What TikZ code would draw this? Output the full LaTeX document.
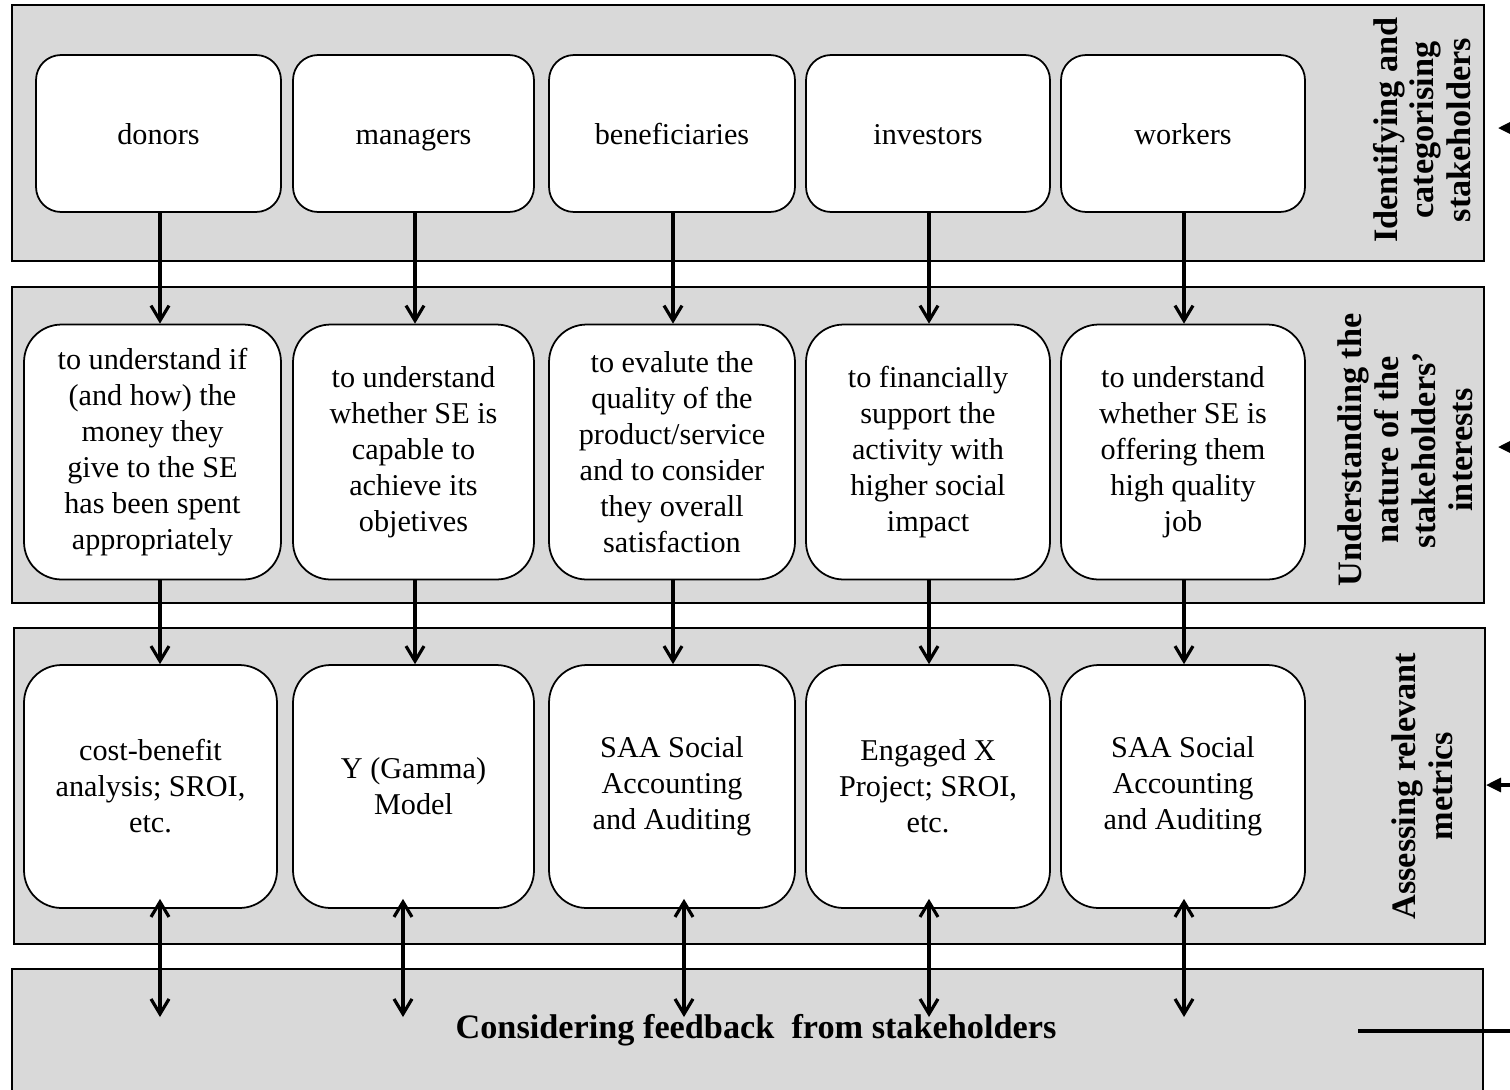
\documentclass[tikz,border=0pt]{standalone}
\usepackage{fontspec}
\setmainfont{Liberation Serif}
\usetikzlibrary{positioning,calc,arrows.meta}
\definecolor{bandgray}{RGB}{217,217,217}

\begin{document}
\begin{tikzpicture}[x=0.02cm,y=-0.02cm,
band/.style={draw,line width=1pt,fill=bandgray},
box/.style={draw,line width=1pt,fill=white,align=center,inner sep=2pt,minimum width=4.9cm,font=\fontsize{17.2}{20.5}\selectfont},
who/.style={box,minimum height=3.14cm,rounded corners=0.5cm,text height=15pt,text depth=3pt},
need/.style={box,minimum height=5.1cm,rounded corners=0.75cm},
metric/.style={box,minimum height=4.86cm,rounded corners=0.75cm},
phase/.style={rotate=90,align=center,font=\fontsize{19.5}{21}\selectfont\bfseries},
vtip/.tip={Straight Barb[length=0.3cm,width=0.36cm]},
edge/.style={-{vtip},line width=1.8pt},
twoway/.style={{vtip}-{vtip},line width=1.8pt},
loop/.style={-{Triangle[length=0.3cm,width=0.28cm]},line width=1.8pt}]

\useasboundingbox (0,0) rectangle (1510,1089);
\clip (0,0) rectangle (1510,1089);

% bands
\draw[band] (12,5) rectangle (1484,261);
\draw[band] (12,287) rectangle (1484,603);
\draw[band] (14,628) rectangle (1485,944);
\draw[band] (12,969) rectangle (1483,1095);

% band labels
\node[phase] (p1) at (1422,130) {Identifying and\\categorising\\stakeholders};
\node[phase] (p2) at (1405,450) {Understanding the\\nature of the\\stakeholders’\\interests};
\node[phase] (p3) at (1422,786) {Assessing relevant\\metrics};
\node[font=\fontsize{19.5}{21}\selectfont\bfseries] (fb) at (756,1030) {Considering feedback~ from stakeholders};

% stakeholders
\node[who,minimum width=4.9cm] (d1) at (158.5,133.5) {donors};
\node[who,minimum width=4.82cm] (d2) at (413.5,133.5) {managers};
\node[who,minimum width=4.92cm] (d3) at (672,133.5) {beneficiaries};
\node[who,minimum width=4.88cm] (d4) at (928,133.5) {investors};
\node[who,minimum width=4.88cm] (d5) at (1183,133.5) {workers};

% interests
\node[need,minimum width=5.14cm] (i1) at (152.5,452) {to understand if\\(and how) the\\money they\\give to the SE\\has been spent\\appropriately};
\node[need,minimum width=4.82cm] (i2) at (413.5,452) {to understand\\whether SE is\\capable to\\achieve its\\objetives};
\node[need,minimum width=4.92cm] (i3) at (672,452) {to evalute the\\quality of the\\product/service\\and to consider\\they overall\\satisfaction};
\node[need,minimum width=4.88cm] (i4) at (928,452) {to financially\\support the\\activity with\\higher social\\impact};
\node[need,minimum width=4.88cm] (i5) at (1183,452) {to understand\\whether SE is\\offering them\\high quality\\job};

% metrics
\node[metric,minimum width=5.06cm] (m1) at (150.5,786.5) {cost-benefit\\analysis; SROI,\\etc.};
\node[metric,minimum width=4.82cm] (m2) at (413.5,786.5) {Y (Gamma)\\Model};
\node[metric,minimum width=4.92cm] (m3) at (672,786.5) {SAA Social\\Accounting\\and Auditing};
\node[metric,minimum width=4.88cm] (m4) at (928,786.5) {Engaged X\\Project; SROI,\\etc.};
\node[metric,minimum width=4.88cm] (m5) at (1183,786.5) {SAA Social\\Accounting\\and Auditing};

% feedback ends
\coordinate (f1) at (160,1017);
\coordinate (f2) at (403,1017);
\coordinate (f3) at (684,1017);
\coordinate (f4) at (929,1017);
\coordinate (f5) at (1184,1017);

% loop ends (cut at the right edge)
\coordinate (r1) at (1530,128);
\coordinate (t1) at (1498,128);
\coordinate (r2) at (1530,447);
\coordinate (t2) at (1498,447);
\coordinate (r3) at (1530,785);
\coordinate (t3) at (1486,785);
\coordinate (r4) at (1530,1031);
\coordinate (t4) at (1358,1031);

\foreach \n/\x in {1/160,2/415,3/673,4/929,5/1184}{
  \draw[edge] (\x,0 |- d\n.south) -- (\x,0 |- i\n.north);
  \draw[edge] (\x,0 |- i\n.south) -- (\x,0 |- m\n.north);
}
\foreach \n in {1,...,5}
  \draw[twoway,shorten >=-0.2cm] (f\n) -- (f\n |- m\n.south);

\draw[loop] (r1) -- (t1);
\draw[loop] (r2) -- (t2);
\draw[loop] (r3) -- (t3);
\draw[line width=1.8pt] (r4) -- (t4);

\end{tikzpicture}
\end{document}
